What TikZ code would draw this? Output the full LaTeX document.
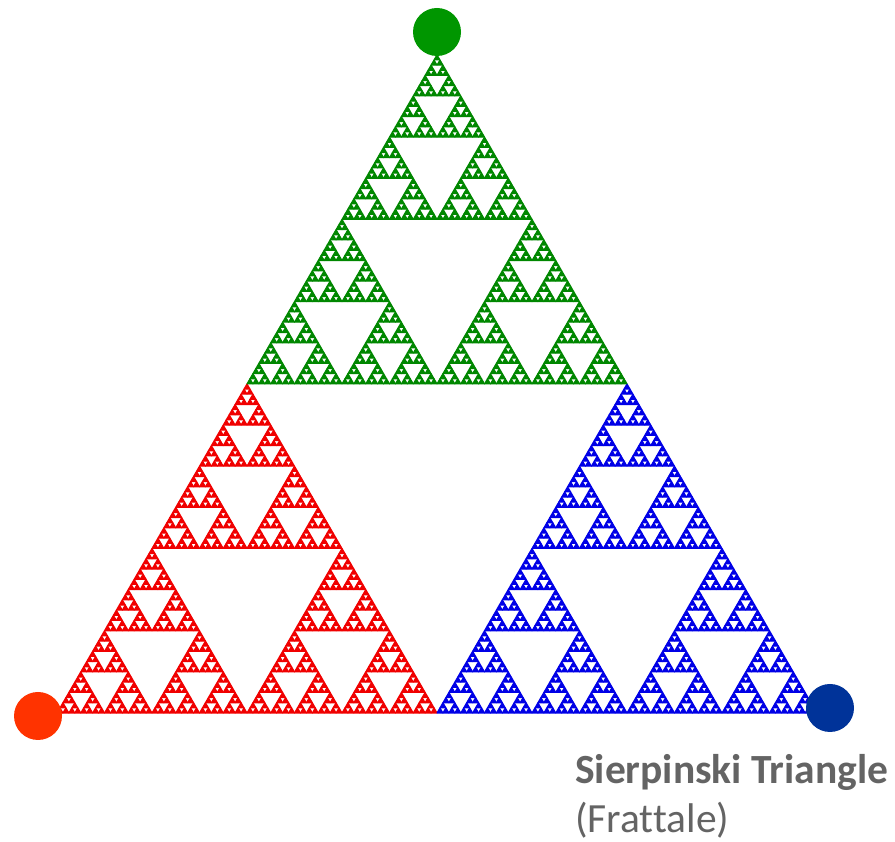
\documentclass[tikz,border=0pt]{standalone}
\usepackage{fontspec}
\setmainfont[Ligatures=NoCommon]{Carlito}
\definecolor{fgreen}{RGB}{0,135,0}
\definecolor{fred}{RGB}{240,0,0}
\definecolor{fblue}{RGB}{0,0,230}
\definecolor{cgreen}{RGB}{0,150,0}
\definecolor{cred}{RGB}{255,51,0}
\definecolor{cblue}{RGB}{0,51,153}
\definecolor{txtgray}{RGB}{100,100,100}
\def\sierp#1#2#3#4{%
  \ifnum#1=0
    \filldraw (#2,#3) -- ++(#4,0) -- ++(120:#4) -- cycle;%
  \else
    \edef\sierpnext{%
      \noexpand\sierp{\the\numexpr#1-1\relax}{#2}{#3}{\fpeval{#4/2}}%
      \noexpand\sierp{\the\numexpr#1-1\relax}{\fpeval{#2+#4/2}}{#3}{\fpeval{#4/2}}%
      \noexpand\sierp{\the\numexpr#1-1\relax}{\fpeval{#2+#4/4}}{\fpeval{#3+#4*0.4330127}}{\fpeval{#4/2}}}%
    \expandafter\sierpnext
  \fi}
\tikzset{
  vertex/.style={circle, minimum size=48pt, inner sep=0pt, draw=none},
  leaf/.style={line width=1.1pt, line join=round}
}
\begin{document}
\begin{tikzpicture}[x=1pt,y=1pt]
\useasboundingbox (0,0) rectangle (895,842);
\begin{scope}[leaf, fill=fred, draw=fred]
  \sierp{6}{57}{129}{380}
\end{scope}
\begin{scope}[leaf, fill=fblue, draw=fblue]
  \sierp{6}{437}{129}{380}
\end{scope}
\begin{scope}[leaf, fill=fgreen, draw=fgreen]
  \sierp{6}{247}{458.09}{380}
\end{scope}
\node[vertex, fill=cgreen] (top) at (437,810) {};
\node[vertex, fill=cred] (left) at (38,126) {};
\node[vertex, fill=cblue] (right) at (830,134) {};
\node[anchor=base west, inner sep=0pt, text=txtgray, font=\fontsize{41.5}{50}\selectfont\bfseries] (title) at (575,58) {Sierpinski Triangle};
\node[anchor=base west, inner sep=0pt, text=txtgray, font=\fontsize{41.5}{50}\selectfont] (sub) at (575,9) {(Frattale)};
\end{tikzpicture}
\end{document}
